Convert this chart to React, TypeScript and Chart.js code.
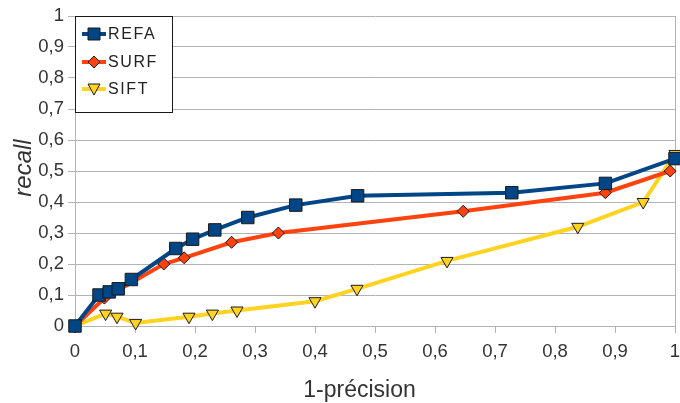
import React, { useEffect, useRef } from 'react';
import { Chart, registerables } from 'chart.js';

Chart.register(...registerables);

const seriesNames = ['REFA', 'SURF', 'SIFT'];
const seriesColors = ['#004586', '#ff420e', '#ffd320'];

const refaX = [0, 0.04, 0.057, 0.072, 0.094, 0.168, 0.196, 0.233, 0.288, 0.368, 0.471, 0.728, 0.884, 1.0];
const refaY = [0, 0.10, 0.11, 0.12, 0.15, 0.25, 0.28, 0.31, 0.35, 0.39, 0.42, 0.43, 0.46, 0.54];

const surfX = [0, 0.049, 0.148, 0.182, 0.261, 0.339, 0.647, 0.884, 0.992];
const surfY = [0, 0.09, 0.20, 0.22, 0.27, 0.30, 0.37, 0.43, 0.50];

const siftX = [0, 0.051, 0.07, 0.101, 0.19, 0.229, 0.27, 0.40, 0.47, 0.62, 0.838, 0.947, 1.0];
const siftY = [0, 0.04, 0.03, 0.01, 0.03, 0.04, 0.05, 0.08, 0.12, 0.21, 0.32, 0.40, 0.555];

const xTitle = '1-précision';
const yTitle = 'recall';

const FONT = '"Liberation Sans", Arial, sans-serif';
const GRID = '#b3b3b3';
const fmt = (v: number) => String(Math.round(v * 10) / 10).replace('.', ',');
const pts = (xs: number[], ys: number[]) => xs.map((x, i) => ({ x, y: ys[i] }));

function drawMarker(ctx: CanvasRenderingContext2D, kind: number, x: number, y: number) {
  ctx.save();
  ctx.fillStyle = seriesColors[kind];
  ctx.strokeStyle = '#1a1a1a';
  ctx.lineWidth = 1;
  ctx.beginPath();
  if (kind === 0) {
    ctx.rect(x - 6, y - 6, 12, 12);
  } else if (kind === 1) {
    ctx.moveTo(x, y - 6);
    ctx.lineTo(x + 6, y);
    ctx.lineTo(x, y + 6);
    ctx.lineTo(x - 6, y);
    ctx.closePath();
  } else {
    ctx.moveTo(x - 6, y - 5);
    ctx.lineTo(x + 6, y - 5);
    ctx.lineTo(x, y + 6);
    ctx.closePath();
  }
  ctx.fill();
  ctx.stroke();
  ctx.restore();
}

export default function App() {
  const ref = useRef<HTMLCanvasElement>(null);
  useEffect(() => {
    document.body.style.margin = '0';
    const overlayPlugin = {
      id: 'overlay',
      afterDraw(chart: any) {
        const ctx: CanvasRenderingContext2D = chart.ctx;
        const area = chart.chartArea;
        const left = area.left;
        const top = area.top;
        ctx.save();
        // axis titles
        ctx.fillStyle = '#333';
        ctx.textAlign = 'center';
        ctx.textBaseline = 'alphabetic';
        ctx.font = `23px ${FONT}`;
        ctx.fillText(xTitle, 359.5, 397);
        ctx.save();
        ctx.translate(31, 168);
        ctx.rotate(-Math.PI / 2);
        ctx.font = `italic 24px ${FONT}`;
        ctx.fillText(yTitle, 0, 0);
        ctx.restore();
        // legend
        ctx.fillStyle = '#ffffff';
        ctx.fillRect(left, top, 97, 96);
        ctx.strokeStyle = '#1a1a1a';
        ctx.lineWidth = 1;
        ctx.strokeRect(left + 0.5, top + 0.5, 97, 96);
        const ys = [top + 18, top + 46, top + 73];
        seriesNames.forEach((name, i) => {
          const y = ys[i];
          ctx.strokeStyle = seriesColors[i];
          ctx.lineWidth = 4;
          ctx.beginPath();
          ctx.moveTo(left + 7, y);
          ctx.lineTo(left + 31, y);
          ctx.stroke();
          drawMarker(ctx, i, left + 19, y);
          ctx.fillStyle = '#222';
          ctx.font = `16px ${FONT}`;
          (ctx as any).letterSpacing = '1.6px';
          ctx.textBaseline = 'middle';
          ctx.textAlign = 'left';
          ctx.fillText(name, left + 33, y + 1);
          (ctx as any).letterSpacing = '0px';
        });
        ctx.restore();
      },
    };

    const common = { borderWidth: 4, tension: 0, clip: false as any, pointBorderColor: '#1a1a1a', pointBorderWidth: 1 };

    const chart = new Chart(ref.current!, {
      type: 'line',
      data: {
        datasets: [
          {
            ...common,
            label: seriesNames[0],
            data: pts(refaX, refaY),
            borderColor: seriesColors[0],
            backgroundColor: seriesColors[0],
            pointStyle: 'rect',
            pointRadius: 8.8,
          },
          {
            ...common,
            label: seriesNames[1],
            data: pts(surfX, surfY),
            borderColor: seriesColors[1],
            backgroundColor: seriesColors[1],
            pointStyle: 'rectRot',
            pointRadius: 6,
          },
          {
            ...common,
            label: seriesNames[2],
            data: pts(siftX, siftY),
            borderColor: seriesColors[2],
            backgroundColor: seriesColors[2],
            pointStyle: 'triangle',
            pointRotation: 180,
            pointRadius: 7,
          },
        ],
      },
      options: {
        responsive: false,
        animation: false,
        devicePixelRatio: 1,
        layout: { autoPadding: false, padding: { top: 16, right: 5, left: 0, bottom: 0 } },
        plugins: { legend: { display: false }, tooltip: { enabled: false } },
        scales: {
          x: {
            type: 'linear',
            min: 0,
            max: 1,
            ticks: {
              stepSize: 0.1,
              callback: (v: any) => fmt(Number(v)),
              color: '#333',
              font: { family: FONT, size: 18.5 },
              padding: 8,
              maxRotation: 0,
              autoSkip: false,
            },
            grid: {
              drawOnChartArea: true,
              color: (c: any) => (c.tick && Math.abs(c.tick.value - 1) < 1e-6 ? GRID : 'rgba(0,0,0,0)'),
              tickColor: GRID,
              tickLength: 7,
            },
            border: { color: GRID },
            title: { display: false },
            afterFit: (s: any) => {
              s.height = 77;
              s.paddingLeft = 0;
              s.paddingRight = 0;
            },
          },
          y: {
            type: 'linear',
            min: 0,
            max: 1,
            ticks: {
              stepSize: 0.1,
              callback: (v: any) => fmt(Number(v)),
              color: '#333',
              font: { family: FONT, size: 18.5 },
              padding: 4,
              autoSkip: false,
            },
            grid: { color: GRID, tickLength: 7 },
            border: { color: GRID },
            title: { display: false },
            afterFit: (s: any) => {
              s.width = 75;
              s.paddingTop = 0;
              s.paddingBottom = 0;
            },
          },
        },
      },
      plugins: [overlayPlugin],
    } as any);
    return () => chart.destroy();
  }, []);
  return (
    <div style={{ width: 680, height: 403 }}>
      <canvas ref={ref} width={680} height={403} style={{ display: 'block' }} />
    </div>
  );
}
